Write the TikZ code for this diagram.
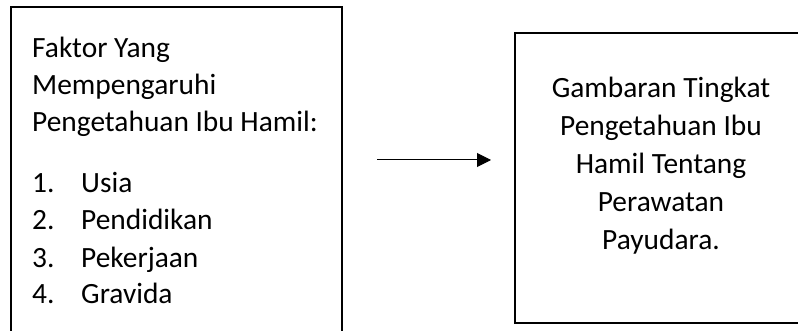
\documentclass[tikz,border=0pt]{standalone}
\usepackage{fontspec}
\setmainfont{Carlito}
\usetikzlibrary{arrows.meta}
\begin{document}
\begin{tikzpicture}[x=1pt,y=-1pt,
  frame/.style={draw=black, line width=2pt, rectangle, inner sep=0pt},
  txt/.style={font=\fontsize{29.4}{37}\selectfont, inner sep=0pt},
  ltxt/.style={txt, anchor=base west},
  ctxt/.style={txt, anchor=base},
  conn/.style={draw=black, line width=1pt, -{Triangle[length=14pt,width=14pt]}}]
\useasboundingbox (0,0) rectangle (798,331);
\clip (0,0) rectangle (798,331);
% boxes
\node[frame, minimum width=330.5pt, minimum height=338pt] (left) at (176.25,176) {};
\node[frame, minimum width=292pt, minimum height=290pt] (right) at (661,177.7) {};
% left text
\node[ltxt] (l1) at (32,58) {Faktor Yang};
\node[ltxt] (l2) at (32,95) {Mempengaruhi};
\node[ltxt] (l3) at (32,132) {Pengetahuan Ibu Hamil:};
\node[ltxt] (n1) at (32,193) {1.};
\node[ltxt] (i1) at (81,193) {Usia};
\node[ltxt] (n2) at (32,230) {2.};
\node[ltxt] (i2) at (81,230) {Pendidikan};
\node[ltxt] (n3) at (32,267) {3.};
\node[ltxt] (i3) at (81,267) {Pekerjaan};
\node[ltxt] (n4) at (32,303) {4.};
\node[ltxt] (i4) at (81,303) {Gravida};
% right text
\node[ctxt] (r1) at (661,98) {Gambaran Tingkat};
\node[ctxt] (r2) at (661,136) {Pengetahuan Ibu};
\node[ctxt] (r3) at (661,174) {Hamil Tentang};
\node[ctxt] (r4) at (661,212) {Perawatan};
\node[ctxt] (r5) at (661,250) {Payudara.};
% arrow
\coordinate (ay) at (0,160);
\draw[conn, shorten <=34.5pt, shorten >=23pt] (left.east |- ay) -- (right.west |- ay);
\end{tikzpicture}
\end{document}
